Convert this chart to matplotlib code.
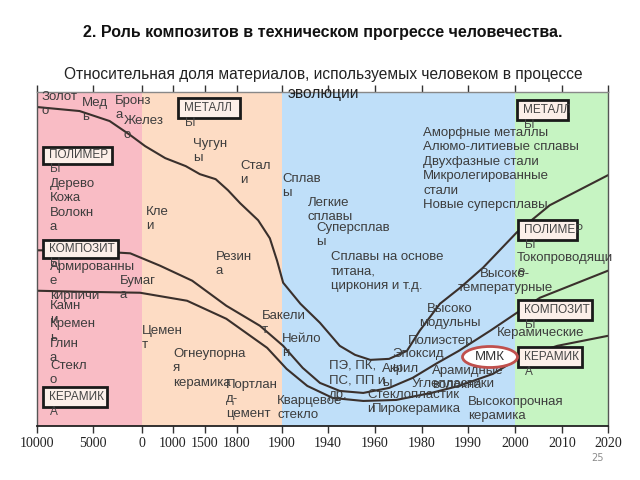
import numpy as np
import matplotlib
matplotlib.use("Agg")
import matplotlib.pyplot as plt
from matplotlib.patches import Rectangle, Ellipse

# ---------------- data ----------------
tick_years = [-10000, -5000, 0, 1000, 1500, 1800, 1900, 1940, 1960, 1980, 1990, 2000, 2010, 2020]
tick_labels = ["10000", "5000", "0", "1000", "1500", "1800", "1900", "1940", "1960",
               "1980", "1990", "2000", "2010", "2020"]

# era bands (year from, year to)
era_from = [-10000, 0, 1900, 2000]
era_to = [0, 1900, 2000, 2020]
era_colors = ["#f9bcc5", "#fddcc4", "#bfdff9", "#c6f4c2"]

# boundary curves: relative share (%) vs year
metal_years = [-10000, -6200, -3300, -1200, 100, 750, 1200, 1420, 1600, 1715, 1807, 1847,
               1873, 1889, 1901, 1916, 1933, 1945, 1951.5, 1958, 1966, 1973.6, 1979,
               1983.9, 1988.3, 1993.2, 2000.4, 2007.4, 2020]
metal_share = [95.5, 94.3, 91.3, 87.1, 83.8, 80.2, 77.8, 75.4, 73.9, 70.6, 66.7, 61.6,
               56.2, 49.5, 42.9, 36.6, 30.9, 24.0, 21.3, 19.8, 20.1, 22.5, 28.5,
               36.6, 41.4, 47.4, 58.0, 66.1, 75.1]

poly_years = [-10000, -6200, -1200, 580, 1300, 1700, 1851, 1901, 1918, 1933, 1945, 1955,
              1966, 1976, 1983, 1988, 1994.7, 2000.4, 2005.3, 2020]
poly_share = [52.6, 52.6, 51.7, 48.0, 43.5, 36.0, 30.0, 24.0, 17.4, 12.9, 10.5, 9.9,
              11.4, 14.4, 18.6, 22.5, 28.5, 33.9, 38.4, 46.5]

comp_years = [-10000, -6200, -200, 1220, 1700, 1867, 1904, 1922, 1942, 1955, 1969, 1982,
              1988, 1995.3, 2000.6, 2009, 2020]
comp_share = [40.5, 40.2, 39.9, 37.5, 32.1, 23.4, 17.1, 12.0, 8.4, 7.5, 7.8, 9.9,
              12.0, 15.6, 20.1, 24.0, 27.0]

# ---------------- layout helpers ----------------
W, H = 640, 480
axis_px = [37, 93, 142, 173, 205, 237, 282, 328, 375, 422, 468, 515, 562, 608]


def P(px, py):
    return px / W, 1 - py / H


fig = plt.figure(figsize=(6.4, 4.8), dpi=100)
fig.patch.set_facecolor("white")
ax = fig.add_axes([37 / W, 1 - 426 / H, (608 - 37) / W, (426 - 92) / H])

fwd = lambda x: np.interp(x, tick_years, axis_px)
inv = lambda x: np.interp(x, axis_px, tick_years)
ax.set_xscale("function", functions=(fwd, inv))
ax.set_xlim(-10000, 2020)
ax.set_ylim(0, 100)

for a, b, c in zip(era_from, era_to, era_colors):
    ax.axvspan(a, b, color=c, lw=0, zorder=0)

line_col = "#3a302c"
for xs, ys in [(metal_years, metal_share), (poly_years, poly_share), (comp_years, comp_share)]:
    ax.plot(xs, ys, color=line_col, lw=1.5, zorder=2, solid_capstyle="round")

ax.set_xticks(tick_years)
ax.set_xticklabels(tick_labels, family="Liberation Serif", fontsize=10, color="#222222")
ax.set_yticks([])
ax.tick_params(axis="x", direction="out", length=5, width=1, color="#333333", pad=3,
               top=True, labeltop=False)
for s in ["left", "right"]:
    ax.spines[s].set_color("#555555")
    ax.spines[s].set_linewidth(1.0)
ax.spines["bottom"].set_color("#222222")
ax.spines["bottom"].set_linewidth(1.3)
ax.spines["top"].set_color("#888888")
ax.spines["top"].set_linewidth(1.0)

# ---------------- titles ----------------
fig.text(*P(323, 33), "2. Роль композитов в техническом прогрессе человечества.",
         ha="center", va="center", fontsize=11.5, fontweight="bold",
         family="Liberation Sans", color="#111111")
fig.text(*P(323, 67), "Относительная доля материалов, используемых человеком в процессе\nэволюции",
         ha="center", va="top", fontsize=11.2, family="Liberation Sans",
         color="#222222", linespacing=1.3, zorder=6)
fig.text(*P(597, 458), "25", ha="center", va="center", fontsize=7, color="#8c8c8c")

# ---------------- labels ----------------
TXT = "#3d3d3d"
labels = [
    (42, 98, "Золот\nо"), (82, 104, "Мед\nь"), (115, 102, "Бронз\nа"), (124, 122, "Желез\nо"),
    (50, 185, "Дерево\nКожа\nВолокн\nа"), (146, 213, "Кле\nи"),
    (50, 268, "Армированны\nе\nкирпичи"), (120, 282, "Бумаг\nа"),
    (50, 307, "Камн\nи"), (50, 325, "Кремен\nь"), (50, 345, "Глин\nа"), (50, 367, "Стекл\nо"),
    (193, 145, "Чугун\nы"), (240, 167, "Стал\nи"), (216, 258, "Резин\nа"),
    (142, 332, "Цемен\nт"), (173, 355, "Огнеупорна\nя\nкерамика"),
    (226, 386, "Портлан\nд-\nцемент"), (262, 317, "Бакели\nт"), (277, 402, "Кварцевое\nстекло"),
    (282, 180, "Сплав\nы"), (308, 204, "Легкие\nсплавы"), (316, 229, "Суперсплав\nы"),
    (331, 258, "Сплавы на основе\nтитана,\nциркония и т.д."), (282, 340, "Нейло\nн"),
    (329, 367, "ПЭ, ПК,\nПС, ПП и\nдр."),
    (423, 134, "Аморфные металлы\nАлюмо-литиевые сплавы\nДвухфазные стали\nМикролегированные\nстали\nНовые суперсплавы"),
    (408, 342, "Полиэстер"), (392, 355, "Эпоксид\nы"), (382, 370, "Акрил\nы"),
    (432, 372, "Арамидные\nволокна"), (412, 385, "Углепластики"), (367, 396, "Стеклопластик\nи"),
    (372, 410, "Пирокерамика"), (468, 403, "Высокопрочная\nкерамика"),
    (497, 334, "Керамические"), (517, 259, "Токопроводящи\nе"),
]
LS = 1.27
for px, py, t in labels:
    fig.text(*P(px, py - 7), t, ha="left", va="top", fontsize=9.5, family="Liberation Sans",
             color=TXT, linespacing=LS, zorder=3)
for px, py, t in [(505, 275, "Высоко-\nтемпературные"), (450, 310, "Высоко\nмодульны")]:
    fig.text(*P(px, py - 7), t, ha="center", va="top", fontsize=9.5, family="Liberation Sans",
             color=TXT, linespacing=LS, zorder=3)

# ---------------- class boxes ----------------
boxes = [
    (178, 98, 240, 118, "МЕТАЛЛ", "Ы"), (43, 147, 112, 164, "ПОЛИМЕР", "Ы"),
    (43, 240, 118, 258, "КОМПОЗИТ", "Ы"), (43, 387, 107, 407, "КЕРАМИК", "А"),
    (517, 100, 568, 120, "МЕТАЛЛ", "Ы"), (518, 220, 577, 240, "ПОЛИМЕР", "Ы"),
    (518, 300, 592, 320, "КОМПОЗИТ", "Ы"), (518, 347, 582, 367, "КЕРАМИК", "А"),
]
for x0, y0, x1, y1, t1, t2 in boxes:
    fx, fy = P(x0, y1)
    fig.patches.append(Rectangle((fx, fy), (x1 - x0) / W, (y1 - y0) / H, transform=fig.transFigure,
                                 facecolor="#fcefe9", edgecolor="#1a1a1a", lw=2.0, zorder=4))
    fig.text(*P(x0 + 6, (y0 + y1) / 2), t1, ha="left", va="center", fontsize=8.5,
             family="Liberation Sans", color="#444444", zorder=5)
    fig.text(*P(x0 + 7, y1 + 5), t2, ha="left", va="center", fontsize=8.5,
             family="Liberation Sans", color="#444444", zorder=5)

# MMK ellipse
ex, ey = P(490, 357)
fig.patches.append(Ellipse((ex, ey), 55 / W, 21 / H, transform=fig.transFigure,
                           facecolor="white", edgecolor="#c0504d", lw=2.0, zorder=4))
fig.text(ex, ey, "ММК", ha="center", va="center", fontsize=9.5, family="Liberation Sans",
         color="#333333", zorder=5)

fig.savefig("out.png", dpi=100)
